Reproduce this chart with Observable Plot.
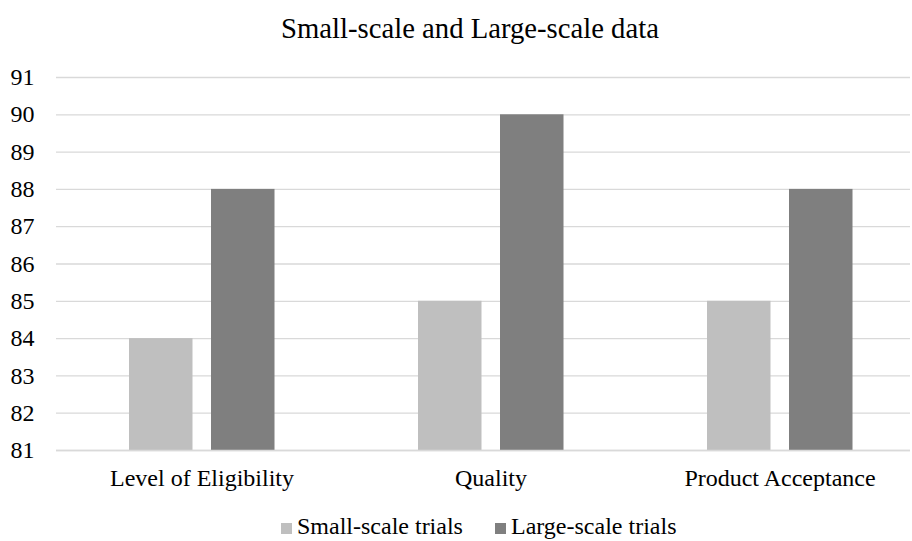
<!DOCTYPE html>
<html>
<head>
<meta charset="utf-8">
<script src="https://cdn.jsdelivr.net/npm/d3@7"></script>
<script src="https://cdn.jsdelivr.net/npm/@observablehq/plot@0.6"></script>
<style>
  body { margin: 0; background: #fff; }
  #wrap { position: relative; width: 912px; height: 541px; font-family: 'Liberation Serif', 'Times New Roman', serif; color: #000; }
  #title { position: absolute; left: 14px; top: 11px; width: 912px; text-align: center; font-size: 28.7px; line-height: 34px; white-space: nowrap; }
  .item { position: absolute; top: 512px; font-size: 24px; line-height: 28px; white-space: nowrap; }
  .sw { position: absolute; left: 0; top: 11px; width: 11px; height: 11px; }
  .lbl { position: absolute; left: 16px; top: 0; }
  svg { position: absolute; left: 0; top: 0; }
</style>
</head>
<body>
<div id="wrap">
  <div id="chart"></div>
  <div id="title">Small-scale and Large-scale data</div>
  <div id="legend"></div>
</div>
<script>
const categories = ["Level of Eligibility", "Quality", "Product Acceptance"];
const seriesNames = ["Small-scale trials", "Large-scale trials"];
const smallScale = [84, 85, 85];
const largeScale = [88, 90, 88];
const yTicks = [81, 82, 83, 84, 85, 86, 87, 88, 89, 90, 91];
const colors = ["#bfbfbf", "#7f7f7f"];

const small = categories.map((c, i) => ({category: c, value: smallScale[i]}));
const large = categories.map((c, i) => ({category: c, value: largeScale[i]}));

const chart = Plot.plot({
  width: 912,
  height: 541,
  marginTop: 77,
  marginBottom: 91,
  marginLeft: 56,
  marginRight: 2,
  style: {fontFamily: "'Liberation Serif', 'Times New Roman', serif", fontSize: "24px", color: "#000", background: "transparent"},
  x: {domain: categories, range: [56, 925], padding: 0, label: null, tickSize: 0, tickPadding: 18},
  y: {domain: [81, 91], ticks: yTicks, tickFormat: d => String(d), label: null, tickSize: 0, tickPadding: 22},
  marks: [
    Plot.ruleY(yTicks, {stroke: "#d9d9d9", strokeWidth: 1.3}),
    Plot.barY(small, {x: "category", y1: 81, y2: "value", fill: colors[0], insetLeft: 72, insetRight: 153.5}),
    Plot.barY(large, {x: "category", y1: 81, y2: "value", fill: colors[1], insetLeft: 154, insetRight: 71.5}),
    Plot.ruleY([81], {stroke: "#d9d9d9", strokeWidth: 1.3})
  ]
});
document.getElementById("chart").appendChild(chart);

const legend = document.getElementById("legend");
const legendLeft = [281, 495];
seriesNames.forEach((name, i) => {
  const item = document.createElement("div");
  item.className = "item";
  item.style.left = legendLeft[i] + "px";
  const sw = document.createElement("span");
  sw.className = "sw";
  sw.style.background = colors[i];
  const lbl = document.createElement("span");
  lbl.className = "lbl";
  lbl.textContent = name;
  item.appendChild(sw);
  item.appendChild(lbl);
  legend.appendChild(item);
});
</script>
</body>
</html>
